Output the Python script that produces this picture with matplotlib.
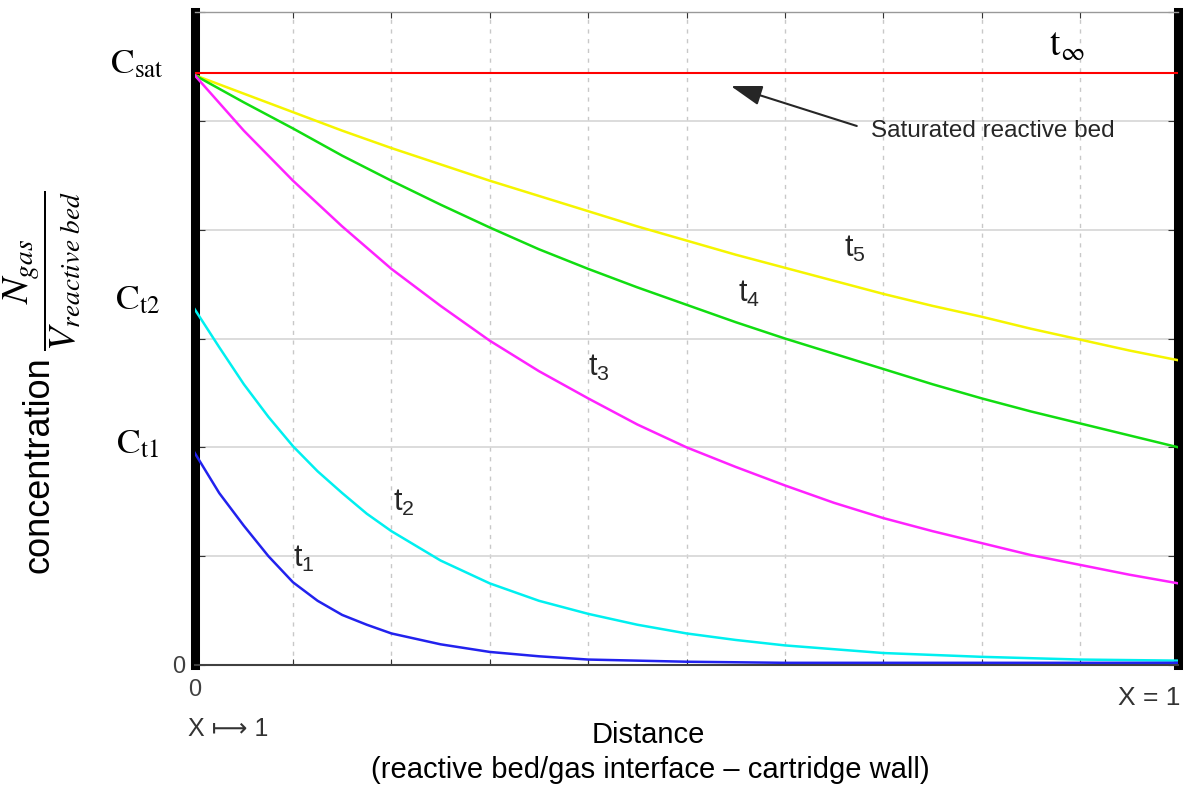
import numpy as np
import matplotlib
matplotlib.use("Agg")
import matplotlib.pyplot as plt
from matplotlib.transforms import blended_transform_factory

plt.rcParams['font.family'] = ['Liberation Sans', 'DejaVu Sans']
plt.rcParams['mathtext.fontset'] = 'stix'

# distance along the bed (0 = bed/gas interface, 1 = cartridge wall)
x_steep = [0, 0.025, 0.05, 0.075, 0.1, 0.125, 0.15, 0.175, 0.2, 0.25, 0.3, 0.35,
           0.4, 0.45, 0.5, 0.55, 0.6, 0.7, 0.8, 0.9, 1.0]
x_even = [0, 0.05, 0.1, 0.15, 0.2, 0.25, 0.3, 0.35, 0.4, 0.45, 0.5,
          0.55, 0.6, 0.65, 0.7, 0.75, 0.8, 0.85, 0.9, 0.95, 1.0]

# concentration profiles at successive times
c_t1 = [1.95, 1.58, 1.28, 1.00, 0.76, 0.59, 0.46, 0.37, 0.29, 0.19, 0.12, 0.08,
        0.05, 0.04, 0.03, 0.025, 0.02, 0.02, 0.02, 0.02, 0.02]
c_t2 = [3.27, 2.92, 2.58, 2.28, 2.01, 1.78, 1.58, 1.39, 1.23, 0.96, 0.75, 0.59,
        0.47, 0.37, 0.29, 0.23, 0.18, 0.11, 0.075, 0.05, 0.04]
c_t3 = [5.42, 4.91, 4.45, 4.03, 3.64, 3.30, 2.98, 2.70, 2.45, 2.21, 2.00,
        1.82, 1.65, 1.49, 1.35, 1.23, 1.12, 1.01, 0.92, 0.83, 0.75]
c_t4 = [5.42, 5.17, 4.93, 4.68, 4.45, 4.23, 4.02, 3.82, 3.64, 3.47, 3.31,
        3.15, 3.00, 2.86, 2.72, 2.58, 2.45, 2.33, 2.22, 2.11, 2.00]
c_t5 = [5.42, 5.25, 5.08, 4.91, 4.75, 4.60, 4.45, 4.31, 4.17, 4.03, 3.90,
        3.77, 3.65, 3.53, 3.41, 3.30, 3.20, 3.09, 2.99, 2.89, 2.80]
c_sat = 5.44

fig = plt.figure(figsize=(11.86, 7.91), dpi=100)
ax = fig.add_axes([0.1641, 0.1593, 0.8295, 0.8255])

ax.plot([0, 1], [c_sat, c_sat], color='red', lw=1.5, zorder=3)
ax.plot(x_even, c_t5, color='#f5f500', lw=1.8, zorder=3)
ax.plot(x_even, c_t4, color='#11dd11', lw=1.8, zorder=3)
ax.plot(x_even, c_t3, color='#ff22ff', lw=1.8, zorder=3)
ax.plot(x_steep, c_t2, color='#00f0f0', lw=1.8, zorder=3)
ax.plot(x_steep, c_t1, color='#2222ee', lw=1.8, zorder=3)

ax.set_xlim(0, 1)
ax.set_ylim(0, 6)
ax.set_xticks(np.arange(0, 1.01, 0.1))
ax.set_xticklabels(['0'] + [''] * 10)
ax.set_yticks(range(7))
ax.set_yticklabels(['0'] + [''] * 6)
ax.tick_params(direction='in', top=True, right=True, color='#333333',
               labelcolor='#404040', labelsize=17)
ax.tick_params(axis='x', length=4, pad=10)
ax.tick_params(axis='y', length=7, pad=7)

ax.xaxis.grid(True, color='#c8c8c8', ls=(0, (3, 4)), lw=1)
ax.yaxis.grid(True, color='#d6d6d6', ls='-', lw=1.2)
ax.set_axisbelow(True)

for side in ['left', 'right']:
    ax.spines[side].set_linewidth(6.5)
    ax.spines[side].set_color('black')
ax.spines['top'].set_color('#999999')
ax.spines['top'].set_linewidth(1)
ax.spines['bottom'].set_color('#404040')
ax.spines['bottom'].set_linewidth(1.5)

# curve labels
lab = dict(fontsize=22, color='#262626', va='baseline', ha='left')
ax.text(0.10, 0.90, r'$\mathregular{t_1}$', **lab)
ax.text(0.202, 1.42, r'$\mathregular{t_2}$', **lab)
ax.text(0.40, 2.66, r'$\mathregular{t_3}$', **lab)
ax.text(0.552, 3.34, r'$\mathregular{t_4}$', **lab)
ax.text(0.66, 3.75, r'$\mathregular{t_5}$', **lab)
ax.text(0.868, 5.60, r'$\mathrm{t_{\infty}}$', fontsize=27, va='baseline', ha='left')

# concentration levels on the left
tr = blended_transform_factory(ax.transAxes, ax.transData)
for name, level in [('sat', c_sat), ('t2', c_t2[0]), ('t1', c_t1[0])]:
    ax.text(-0.0585, level, r'$\mathrm{C_{%s}}$' % name, transform=tr, fontsize=25.5,
            ha='center', va='baseline', clip_on=False)

ax.annotate('Saturated reactive bed', xy=(0.545, 5.32), xytext=(0.688, 4.91),
            ha='left', va='center', fontsize=17.5, color='#262626',
            arrowprops=dict(arrowstyle='-|>,head_length=1.1,head_width=0.35',
                            color='#262626', lw=1.5, shrinkA=9, shrinkB=0,
                            relpos=(0, 0.5)))

# axis annotations
fig.text(39 / 1186, 1 - 465 / 791, 'concentration', rotation=90, fontsize=26,
         ha='center', va='center')
fig.text(42 / 1186, 1 - 271 / 791, r'$\dfrac{N_{gas}}{V_{reactive\ bed}}$',
         rotation=90, fontsize=28, ha='center', va='center')
fig.text(648 / 1186, 1 - 735 / 791, 'Distance', fontsize=21, ha='center', va='center')
fig.text(650 / 1186, 1 - 770 / 791, '(reactive bed/gas interface \u2013 cartridge wall)',
         fontsize=21, ha='center', va='center')
fig.text(188 / 1186, 1 - 729 / 791, 'X \u27fc 1', fontsize=18, color='#333333',
         ha='left', va='center')
fig.text(1180 / 1186, 1 - 698 / 791, 'X = 1', fontsize=19, color='#333333',
         ha='right', va='center')

fig.savefig('out.png', dpi=100)
